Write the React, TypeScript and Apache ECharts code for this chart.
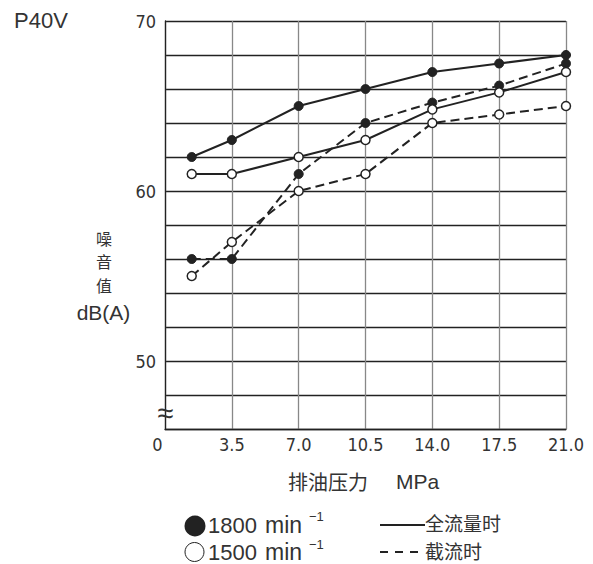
import React, { useEffect, useRef } from "react";
import * as echarts from "echarts";

const pressures = [1.4, 3.5, 7.0, 10.5, 14.0, 17.5, 21.0];
const full1800 = [62, 63, 65, 66, 67, 67.5, 68];
const full1500 = [61, 61, 62, 63, 64.8, 65.8, 67];
const throttle1800 = [56, 56, 61, 64, 65.2, 66.2, 67.5];
const throttle1500 = [55, 57, 60, 61, 64, 64.5, 65];
const yLabels = [50, 60, 70];
const yTitleChars = ["噪", "音", "值"];

const NUM_FONT = "'Liberation Sans Narrow', 'DejaVu Sans Condensed', 'Liberation Sans', sans-serif";
const SANS = "'Liberation Sans', Arial, sans-serif";
const CJK = "'Noto Sans CJK SC', sans-serif";
const INK = "#222";
const TXT = "#333";

function pairs(ys: number[]) {
  return pressures.map((x, i) => [x, ys[i]]);
}

export default function App() {
  const ref = useRef<HTMLDivElement>(null);
  useEffect(() => {
    if (!ref.current) return;
    const chart = echarts.init(ref.current, undefined, { renderer: "svg" });
    const mk = (name: string, data: number[], filled: boolean, dashed: boolean) => ({
      name,
      type: "line",
      data: pairs(data),
      symbol: "circle",
      symbolSize: 9,
      lineStyle: { color: INK, width: 2, type: dashed ? [9, 5] : "solid" },
      itemStyle: filled
        ? { color: INK, borderColor: INK, borderWidth: 1 }
        : { color: "#fff", borderColor: INK, borderWidth: 1.5 },
      z: filled ? 3 : 4,
    });
    const yTitle = yTitleChars.map((c, i) => ({
      type: "text",
      x: 104,
      y: 238 + i * 23.4,
      style: { text: c, fontSize: 16, fontFamily: CJK, fill: TXT, align: "center", verticalAlign: "middle" },
    }));
    chart.setOption({
      animation: false,
      backgroundColor: "#fff",
      grid: { left: 165, top: 21, right: 27, bottom: 135 },
      xAxis: {
        type: "value",
        min: 0,
        max: 21,
        interval: 3.5,
        axisLine: { show: true, lineStyle: { color: INK, width: 1.3 } },
        axisTick: { show: false },
        splitLine: { show: true, lineStyle: { color: "#888", width: 1.3 } },
        axisLabel: {
          margin: 6,
          color: TXT,
          fontSize: 18,
          fontFamily: NUM_FONT,
          formatter: (v: number) => (v === 0 ? "{z|0}" : v.toFixed(1)),
          rich: { z: { fontSize: 18, fontFamily: NUM_FONT, color: TXT, padding: [0, 15, 0, 0] } },
        },
      },
      yAxis: {
        type: "value",
        min: 46,
        max: 70,
        interval: 2,
        axisLine: { show: true, lineStyle: { color: INK, width: 1.3 } },
        axisTick: { show: false },
        splitLine: { show: true, lineStyle: { color: INK, width: 1.3 } },
        axisLabel: {
          margin: 9,
          color: TXT,
          fontSize: 18,
          fontFamily: NUM_FONT,
          formatter: (v: number) => (yLabels.indexOf(v) >= 0 ? String(v) : ""),
        },
      },
      series: [
        mk("1800 全流量时", full1800, true, false),
        mk("1500 全流量时", full1500, false, false),
        mk("1800 截流时", throttle1800, true, true),
        mk("1500 截流时", throttle1500, false, true),
      ],
      graphic: [
        { type: "text", left: 14, top: 9, style: { text: "P40V", fontSize: 22, fontFamily: SANS, fill: TXT } },
        ...yTitle,
        { type: "text", x: 103.5, y: 312, style: { text: "dB(A)", fontSize: 21, fontFamily: SANS, fill: TXT, align: "center", verticalAlign: "middle" } },
        { type: "text", x: 165.5, y: 413, z: 10, style: { text: "≈", fontSize: 29, fontFamily: SANS, fill: TXT, align: "center", verticalAlign: "middle" } },
        { type: "text", x: 288, y: 481, style: { text: "排油压力", fontSize: 20, fontFamily: CJK, fill: TXT, verticalAlign: "middle" } },
        { type: "text", x: 396, y: 481, style: { text: "MPa", fontSize: 21, fontFamily: SANS, fill: TXT, verticalAlign: "middle" } },
        // legend
        { type: "circle", shape: { cx: 195, cy: 526, r: 10.5 }, style: { fill: INK } },
        { type: "text", x: 208, y: 525, style: { text: "1800", fontSize: 22, fontFamily: SANS, fill: TXT, verticalAlign: "middle" } },
        { type: "text", x: 265, y: 525, style: { text: "min", fontSize: 23, fontFamily: SANS, fill: TXT, verticalAlign: "middle" } },
        { type: "text", x: 309, y: 516, style: { text: "−1", fontSize: 13, fontFamily: SANS, fill: TXT, verticalAlign: "middle" } },
        { type: "circle", shape: { cx: 194.5, cy: 552, r: 9.5 }, style: { fill: "#fff", stroke: INK, lineWidth: 1 } },
        { type: "text", x: 208, y: 552, style: { text: "1500", fontSize: 22, fontFamily: SANS, fill: TXT, verticalAlign: "middle" } },
        { type: "text", x: 265, y: 552, style: { text: "min", fontSize: 23, fontFamily: SANS, fill: TXT, verticalAlign: "middle" } },
        { type: "text", x: 309, y: 544, style: { text: "−1", fontSize: 13, fontFamily: SANS, fill: TXT, verticalAlign: "middle" } },
        { type: "line", shape: { x1: 380, y1: 525, x2: 425, y2: 525 }, style: { stroke: INK, lineWidth: 1.8 } },
        { type: "text", x: 425, y: 522.5, style: { text: "全流量时", fontSize: 19, fontFamily: CJK, fill: TXT, verticalAlign: "middle" } },
        { type: "line", shape: { x1: 380, y1: 552, x2: 423, y2: 552 }, style: { stroke: INK, lineWidth: 1.8, lineDash: [8, 7] } },
        { type: "text", x: 425, y: 550, style: { text: "截流时", fontSize: 19, fontFamily: CJK, fill: TXT, verticalAlign: "middle" } },
      ],
    });
    return () => chart.dispose();
  }, []);
  return (
    <div
      ref={ref}
      style={{ position: "fixed", left: 0, top: 0, width: 593, height: 564, background: "#fff" }}
    />
  );
}
